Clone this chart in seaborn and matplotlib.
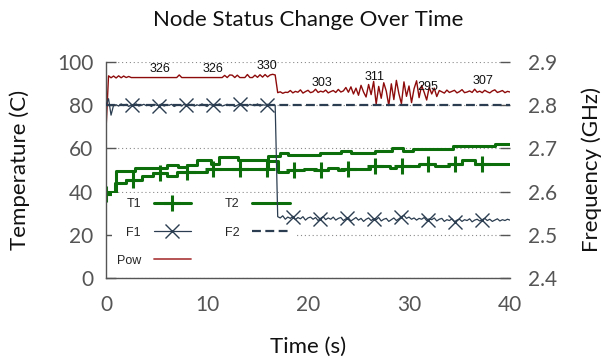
import numpy as np
import matplotlib
matplotlib.use("Agg")
import matplotlib.pyplot as plt
import seaborn as sns
from matplotlib.lines import Line2D

# ---------------- data ----------------
# T1 (temperature, step series)
t1_times = [0, 0.9, 2.0, 3.6, 4.7, 6.0, 7.0, 10.0, 16.0, 17.0, 18.0, 19.6, 20.8, 22.0,
            23.0, 23.6, 26.1, 28.1, 28.7, 31.0, 32.6, 34.0, 35.2, 36.5, 40]
t1_vals = [39, 44, 45.5, 47, 48.5, 47, 49, 50.5, 54, 49, 50, 50.5, 50, 51,
           50, 50.5, 52, 51, 52, 53, 52, 53, 54.5, 53, 53]
# T2 (temperature, step series)
t2_times = [0, 1.0, 2.9, 6.0, 7.1, 8.0, 9.0, 10.4, 11.2, 13.1, 16.0, 17.2, 18.0, 21.2,
            23.3, 24.3, 26.6, 28.3, 29.4, 30.4, 34.4, 38.5, 40]
t2_vals = [40, 49.5, 51, 52.5, 51.5, 52.5, 54.5, 53, 56, 54.5, 56.5, 58, 57, 58,
           59, 58, 59, 60, 59, 59.5, 61, 62, 62]

# sampling of the noisy series (s)
sample_dt = 0.25
pre_start, post_start = 0.0, 17.0

# F1 frequency (GHz), before and after the drop
f1_pre = [2.800, 2.815, 2.777, 2.800,
          2.801, 2.798, 2.803, 2.799, 2.802, 2.797, 2.801, 2.800,
          2.803, 2.798, 2.800, 2.802, 2.799, 2.801, 2.797, 2.802,
          2.800, 2.799, 2.803, 2.798, 2.801, 2.800, 2.802, 2.797,
          2.800, 2.801, 2.798, 2.803, 2.799, 2.800, 2.802, 2.798,
          2.801, 2.799, 2.803, 2.800, 2.797, 2.802, 2.800, 2.799,
          2.801, 2.803, 2.798, 2.800, 2.802, 2.799, 2.801, 2.797,
          2.800, 2.803, 2.799, 2.801, 2.798, 2.802, 2.800, 2.799,
          2.803, 2.798, 2.801, 2.800, 2.802, 2.799, 2.801, 2.800]
f1_post = [2.542, 2.539, 2.544, 2.536, 2.541, 2.538, 2.543, 2.535, 2.540, 2.537,
           2.542, 2.534, 2.539, 2.541, 2.536, 2.540, 2.533, 2.538, 2.542, 2.535,
           2.539, 2.536, 2.541, 2.534, 2.538, 2.540, 2.533, 2.537, 2.539, 2.532,
           2.536, 2.540, 2.534, 2.538, 2.531, 2.536, 2.539, 2.533, 2.537, 2.535,
           2.540, 2.532, 2.536, 2.538, 2.531, 2.535, 2.539, 2.533, 2.537, 2.542,
           2.545, 2.538, 2.541, 2.536, 2.539, 2.534, 2.538, 2.536, 2.540, 2.533,
           2.537, 2.535, 2.539, 2.532, 2.536, 2.538, 2.531, 2.535, 2.533, 2.537,
           2.530, 2.534, 2.536, 2.531, 2.535, 2.533, 2.537, 2.530, 2.534, 2.536,
           2.532, 2.535, 2.538, 2.533, 2.536, 2.531, 2.534, 2.537, 2.532, 2.535,
           2.533, 2.536, 2.534]
# F2 frequency (GHz)
f2_times = [0, 40]
f2_vals = [2.8, 2.8]

# Pow (left scale), before and after the drop
pow_pre = [68.5,
           93.6, 92.7, 93.5, 92.6, 93.6, 92.7, 93.5, 92.8, 93.3,
           92.8, 92.8, 92.8, 92.8, 92.8, 92.8, 92.8, 92.8, 92.8, 92.8,
           92.8, 92.8, 92.8, 92.8, 92.8, 92.8, 92.8, 92.8, 92.8,
           94.0,
           92.8, 92.8, 92.8, 92.8, 92.8, 92.8, 92.8, 92.8, 92.8, 92.8,
           92.8, 92.8, 92.8, 92.8, 92.8, 92.8, 92.8,
           93.8, 92.8, 94.0, 93.9, 92.8, 93.9, 92.8,
           92.8, 92.8,
           94.2,
           92.8, 92.8,
           93.9, 92.9, 94.1, 93.0, 94.2, 93.1, 94.0, 94.3, 94.0]
pow_post = [85.8, 86.2, 85.5, 86.0, 85.9, 86.8, 85.7, 86.4, 86.0, 87.1, 85.6, 86.3, 86.9,
            85.8, 86.2, 87.4, 85.9, 86.5, 86.1, 87.0, 85.7, 86.3, 86.8, 85.9, 87.3, 86.1,
            86.6, 88.2, 86.0,
            88.5, 85.2, 87.9, 84.6, 89.2, 86.1, 83.8, 89.6, 84.9, 91.0, 80.5, 88.7, 83.2,
            90.4, 86.5, 79.8, 89.9, 82.6, 91.5, 85.3, 80.7, 90.8, 84.1, 88.9, 81.2, 87.6,
            91.3, 83.5, 89.1, 86.0, 82.4, 88.3, 85.2, 87.9, 84.0, 86.8,
            86.2, 85.6, 87.0, 85.9, 86.4, 86.9, 85.7, 86.3, 87.2, 85.8, 86.1, 86.6, 85.9,
            87.4, 86.0, 86.5, 85.8, 86.9, 86.2, 85.7, 86.6, 87.1, 85.9, 86.3, 86.8, 85.8,
            86.4, 86.1]

# power annotations
ann_labels = ['326', '326', '330', '303', '311', '295', '307']
ann_t = [5.3, 10.6, 15.9, 21.4, 26.6, 31.9, 37.3]
ann_v = [96.8, 96.8, 98.1, 90.4, 93.2, 88.6, 91.4]

# marker placement (s)
marker_every = 2.66
t1_marker_start, f1_marker_start = 0.0, 2.6

x_ticks = [0, 10, 20, 30, 40]
y_ticks = [0, 20, 40, 60, 80, 100]
y2_ticks = [2.4, 2.5, 2.6, 2.7, 2.8, 2.9]
y2_labels = ['2.4', '2.5', '2.6', '2.7', '2.8', '2.9']

# ---------------- derived series ----------------
f1_t = np.concatenate([pre_start + np.arange(len(f1_pre)) * sample_dt,
                       post_start + np.arange(len(f1_post)) * sample_dt])
f1_v = np.concatenate([f1_pre, f1_post])
pow_t = np.concatenate([pre_start + np.arange(len(pow_pre)) * sample_dt,
                        post_start + np.arange(len(pow_post)) * sample_dt])
pow_v = np.concatenate([pow_pre, pow_post])

# ---------------- style ----------------
sns.set_theme(style="white")
plt.rcParams['font.family'] = ['Lato', 'DejaVu Sans']

GREEN = '#0b6e0b'
SLATE = '#2b3d50'
RED = '#8e0b0b'
AXC = '#555555'
SMALL = ['Liberation Sans', 'DejaVu Sans']

fig = plt.figure(figsize=(6.08, 3.6), dpi=100)
ax = fig.add_axes([106 / 608, 82 / 360, 404 / 608, 216 / 360])
ax2 = ax.twinx()

# Left-axis series
sns.lineplot(x=pow_t, y=pow_v, ax=ax, color=RED, linewidth=1.0,
             estimator=None, sort=False, legend=False)
sns.lineplot(x=t2_times, y=t2_vals, ax=ax, color=GREEN, linewidth=2.2,
             drawstyle='steps-post', estimator=None, sort=False, legend=False)
sns.lineplot(x=t1_times, y=t1_vals, ax=ax, color=GREEN, linewidth=2.2,
             drawstyle='steps-post', estimator=None, sort=False, legend=False)
mt = np.arange(t1_marker_start, 39.0, marker_every)
idx = np.searchsorted(t1_times, mt, side='right') - 1
ax.plot(mt, np.asarray(t1_vals)[idx], ls='none', marker='+', ms=11, mew=2.2, color=GREEN)

for lab, tt, vv in zip(ann_labels, ann_t, ann_v):
    ax.text(tt, vv, lab, ha='center', va='center', fontsize=9,
            family=SMALL, color='#111111')

# Right-axis series
sns.lineplot(x=f2_times, y=f2_vals, ax=ax2, color=SLATE, linewidth=1.6,
             linestyle=(0, (4, 2)), estimator=None, sort=False, legend=False)
sns.lineplot(x=f1_t, y=f1_v, ax=ax2, color=SLATE, linewidth=0.9,
             estimator=None, sort=False, legend=False)
mf = f1_marker_start + np.arange(14) * marker_every
ax2.plot(mf, np.interp(mf, f1_t, f1_v), ls='none', marker='x', ms=10, mew=1.0, color=SLATE)

# Axes
ax.set_xlim(0, 40)
ax.set_ylim(0, 100)
ax2.set_ylim(2.4, 2.9)
ax.set_xticks(x_ticks)
ax.set_yticks(y_ticks)
ax2.set_yticks(y2_ticks)
ax2.set_yticklabels(y2_labels)
ax.set_xlabel('')
ax.set_ylabel('')
ax2.set_ylabel('')

for s in ['top', 'right']:
    ax.spines[s].set_visible(False)
for s in ['left', 'bottom']:
    ax.spines[s].set_color(AXC)
    ax.spines[s].set_linewidth(1.0)
for s in ax2.spines.values():
    s.set_visible(False)

ax.tick_params(axis='both', direction='in', length=7, width=1, color=AXC,
               labelcolor=AXC, labelsize=15)
ax.tick_params(axis='x', pad=12)
ax.tick_params(axis='y', pad=9)
ax2.tick_params(axis='y', direction='in', length=7, width=1, color=AXC,
                labelcolor=AXC, labelsize=15, pad=13)

ax.grid(axis='y', linestyle=(0, (1, 2.5)), color='#8a8a8a', linewidth=0.8)
ax.grid(axis='x', visible=False)
ax.set_axisbelow(True)

# Legend
handles = [
    Line2D([], [], color=GREEN, lw=2.2, marker='+', ms=11, mew=2.2),
    Line2D([], [], color=SLATE, lw=0.9, marker='x', ms=10, mew=1.0),
    Line2D([], [], color='#b04545', lw=1.3),
    Line2D([], [], color=GREEN, lw=2.2),
    Line2D([], [], color=SLATE, lw=1.6, ls=(0, (4, 2))),
]
labels = ['T1', 'F1', 'Pow', 'T2', 'F2']
leg = ax.legend(handles, labels, ncol=2, loc='upper left',
                bbox_to_anchor=(0.014, 0.392), markerfirst=False,
                frameon=True, facecolor='white', edgecolor='none', framealpha=1,
                fancybox=False, handlelength=2.97, handletextpad=1.04,
                columnspacing=2.7, labelspacing=1.3, borderpad=0.4,
                borderaxespad=0, prop={'family': SMALL, 'size': 9})
leg.set_zorder(5)

# Titles and labels
fig.text(308 / 608, 1 - 20 / 360, 'Node Status Change Over Time', ha='center',
         va='center', fontsize=16, color='#111111')
fig.text(308 / 608, 1 - 347 / 360, 'Time (s)', ha='center', va='center',
         fontsize=16, color='#111111')
fig.text(20 / 608, 1 - 170 / 360, 'Temperature (C)', ha='center', va='center',
         rotation=90, fontsize=16, color='#111111')
fig.text(592 / 608, 1 - 170 / 360, 'Frequency (GHz)', ha='center', va='center',
         rotation=90, fontsize=16, color='#111111')

fig.savefig('out.png', dpi=100)
